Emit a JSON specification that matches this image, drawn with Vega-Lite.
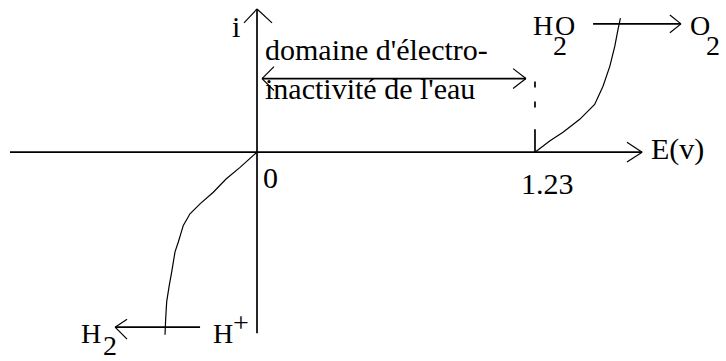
{
  "$schema": "https://vega.github.io/schema/vega-lite/v6.json",
  "width": 726,
  "height": 361,
  "padding": 0,
  "autosize": {"type": "fit", "contains": "padding"},
  "background": "white",
  "config": {"view": {"stroke": null}},
  "datasets": {
    "axes": [
      {"E": -1.093, "i": 0, "E2": 1.704, "i2": 0},
      {"E": 0, "i": 1.44, "E2": 0, "i2": -1.82},
      {"E": 0.0221, "i": 0.74, "E2": 1.190, "i2": 0.74},
      {"E": 1.230, "i": 0, "E2": 1.230, "i2": 0.23},
      {"E": 1.487, "i": 1.29, "E2": 1.876, "i2": 1.29},
      {"E": -0.252, "i": -1.76, "E2": -0.628, "i2": -1.76}
    ],
    "wings": [
      {"E": 1.704, "i": 0, "E2": 1.637, "i2": 0.10},
      {"E": 1.704, "i": 0, "E2": 1.637, "i2": -0.10},
      {"E": -0.0575, "i": 1.30, "E2": 0, "i2": 1.44},
      {"E": 0.0664, "i": 1.30, "E2": 0, "i2": 1.44},
      {"E": 0.0221, "i": 0.74, "E2": 0.0752, "i2": 0.86},
      {"E": 0.0221, "i": 0.74, "E2": 0.0752, "i2": 0.62},
      {"E": 1.190, "i": 0.74, "E2": 1.133, "i2": 0.84},
      {"E": 1.190, "i": 0.74, "E2": 1.133, "i2": 0.64},
      {"E": 1.876, "i": 1.29, "E2": 1.827, "i2": 1.38},
      {"E": 1.876, "i": 1.29, "E2": 1.827, "i2": 1.20},
      {"E": -0.628, "i": -1.76, "E2": -0.575, "i2": -1.68},
      {"E": -0.628, "i": -1.76, "E2": -0.575, "i2": -1.88}
    ],
    "dashed": [
      {"E": 1.230, "i": 0.71, "E2": 1.230, "i2": 0.41}
    ],
    "curves": [
      {"curve": "ox", "E": 1.230, "i": 0},
      {"curve": "ox", "E": 1.295, "i": 0.113},
      {"curve": "ox", "E": 1.354, "i": 0.20},
      {"curve": "ox", "E": 1.428, "i": 0.33},
      {"curve": "ox", "E": 1.494, "i": 0.48},
      {"curve": "ox", "E": 1.531, "i": 0.663},
      {"curve": "ox", "E": 1.561, "i": 0.863},
      {"curve": "ox", "E": 1.583, "i": 1.063},
      {"curve": "ox", "E": 1.597, "i": 1.23},
      {"curve": "ox", "E": 1.608, "i": 1.347},
      {"curve": "red", "E": 0, "i": 0},
      {"curve": "red", "E": -0.0752, "i": -0.153},
      {"curve": "red", "E": -0.137, "i": -0.27},
      {"curve": "red", "E": -0.1934, "i": -0.403},
      {"curve": "red", "E": -0.2522, "i": -0.52},
      {"curve": "red", "E": -0.2965, "i": -0.62},
      {"curve": "red", "E": -0.3261, "i": -0.737},
      {"curve": "red", "E": -0.3482, "i": -0.903},
      {"curve": "red", "E": -0.3628, "i": -1.003},
      {"curve": "red", "E": -0.3774, "i": -1.203},
      {"curve": "red", "E": -0.3881, "i": -1.337},
      {"curve": "red", "E": -0.3996, "i": -1.503},
      {"curve": "red", "E": -0.404, "i": -1.67},
      {"curve": "red", "E": -0.4071, "i": -1.837}
    ],
    "texts": [
      {"label": "i", "E": -0.111, "i": 1.16},
      {"label": "domaine d'électro-", "E": 0.0354, "i": 0.93},
      {"label": "inactivité de l'eau", "E": 0.0354, "i": 0.53},
      {"label": "0", "E": 0.0265, "i": -0.36},
      {"label": "1.23", "E": 1.168, "i": -0.42},
      {"label": "E(v)", "E": 1.743, "i": -0.07}
    ],
    "species": [
      {"label": "H", "E": 1.221, "i": 1.18},
      {"label": "O", "E": 1.3186, "i": 1.18},
      {"label": "2", "E": 1.3097, "i": 0.98},
      {"label": "O", "E": 1.916, "i": 1.18},
      {"label": "2", "E": 1.987, "i": 0.98},
      {"label": "H", "E": -0.779, "i": -1.92},
      {"label": "2", "E": -0.681, "i": -2.04},
      {"label": "H", "E": -0.195, "i": -1.92},
      {"label": "+", "E": -0.106, "i": -1.81}
    ]
  },
  "layer": [
    {
      "data": {"name": "axes"},
      "mark": {"type": "rule", "color": "#000", "strokeWidth": 1.7},
      "encoding": {
        "x": {"field": "E", "type": "quantitative", "scale": {"domain": [-1.1372, 2.0752], "nice": false, "zero": false}, "axis": null},
        "y": {"field": "i", "type": "quantitative", "scale": {"domain": [-2.08, 1.53], "nice": false, "zero": false}, "axis": null},
        "x2": {"field": "E2"},
        "y2": {"field": "i2"}
      }
    },
    {
      "data": {"name": "wings"},
      "mark": {"type": "rule", "color": "#000", "strokeWidth": 1.2},
      "encoding": {
        "x": {"field": "E", "type": "quantitative"},
        "y": {"field": "i", "type": "quantitative"},
        "x2": {"field": "E2"},
        "y2": {"field": "i2"}
      }
    },
    {
      "data": {"name": "dashed"},
      "mark": {"type": "rule", "color": "#000", "strokeWidth": 1.7, "strokeDash": [6, 14]},
      "encoding": {
        "x": {"field": "E", "type": "quantitative"},
        "y": {"field": "i", "type": "quantitative"},
        "x2": {"field": "E2"},
        "y2": {"field": "i2"}
      }
    },
    {
      "data": {"name": "curves"},
      "mark": {"type": "line", "color": "#000", "strokeWidth": 1.2, "interpolate": "linear"},
      "encoding": {
        "x": {"field": "E", "type": "quantitative"},
        "y": {"field": "i", "type": "quantitative"},
        "detail": {"field": "curve"}
      }
    },
    {
      "data": {"name": "texts"},
      "mark": {"type": "text", "align": "left", "baseline": "alphabetic", "font": "Liberation Serif", "fontSize": 30, "color": "#000"},
      "encoding": {
        "x": {"field": "E", "type": "quantitative"},
        "y": {"field": "i", "type": "quantitative"},
        "text": {"field": "label"}
      }
    },
    {
      "data": {"name": "species"},
      "mark": {"type": "text", "align": "left", "baseline": "alphabetic", "font": "Liberation Serif", "fontSize": 28, "color": "#000"},
      "encoding": {
        "x": {"field": "E", "type": "quantitative"},
        "y": {"field": "i", "type": "quantitative"},
        "text": {"field": "label"}
      }
    }
  ]
}
